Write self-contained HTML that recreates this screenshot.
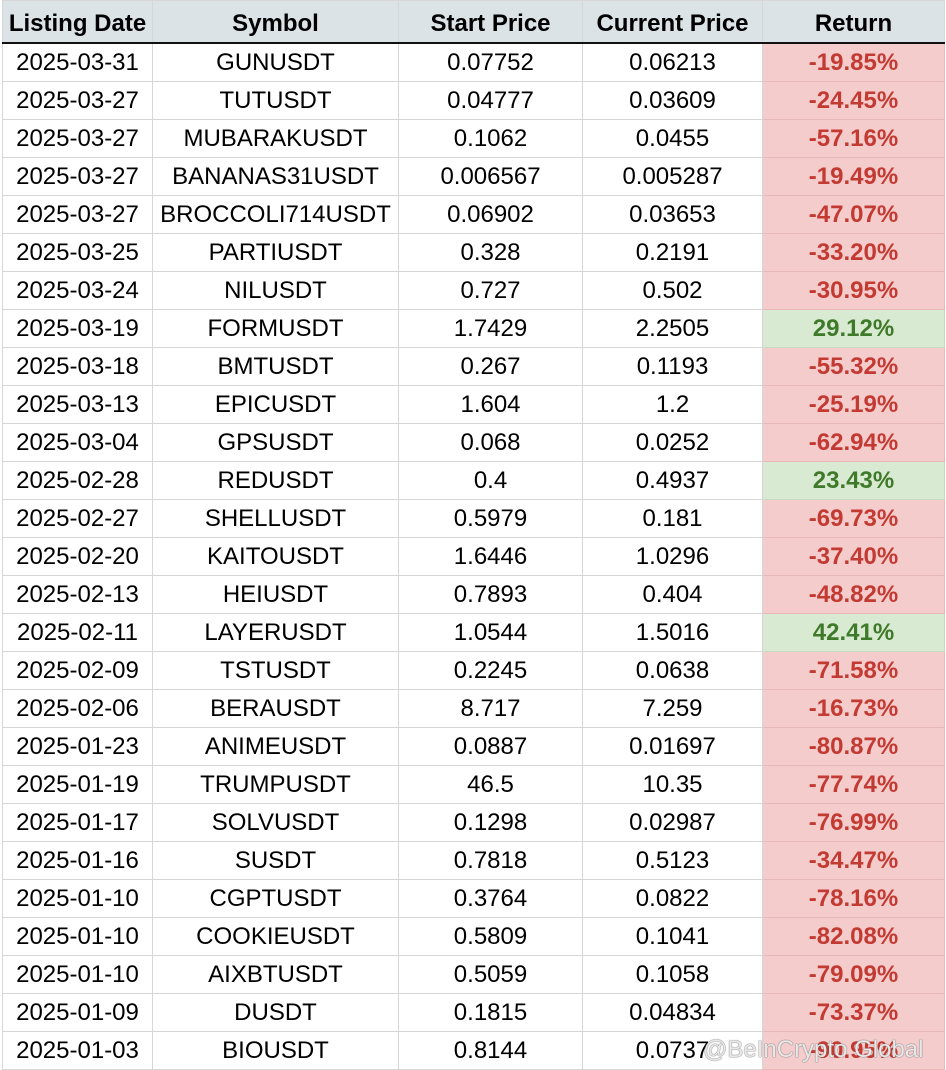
<!DOCTYPE html>
<html><head><meta charset="utf-8"><style>
html,body{margin:0;padding:0;background:#fff;width:946px;height:1070px;overflow:hidden}
table{position:absolute;left:2px;top:0;border-collapse:collapse;table-layout:fixed;font-family:"Liberation Sans",Arial,sans-serif;font-size:24px;color:#000}
td,th{border:1px solid #d6d6d6;height:37px;padding:0;text-align:center;white-space:nowrap;overflow:hidden}
td{padding-top:1px;height:36px}
th{background:#dbe3e7;font-weight:bold;height:36px;padding-top:5px;border-bottom:2px solid #111;color:#000}
td.n{background:#f4cccc;color:#c33a32;font-weight:bold;border-color:#e6b8b8}
td.p{background:#d9ead3;color:#3f7a2a;font-weight:bold;border-color:#c5dcbd}
.wm{position:absolute;left:703px;top:1036px;font-family:"Liberation Sans",Arial,sans-serif;font-size:24px;color:rgba(255,255,255,0.85);text-shadow:0 0 1px #666,0 0 1px #666}
</style></head><body>
<table>
<colgroup><col style="width:150px"><col style="width:246px"><col style="width:184px"><col style="width:180px"><col style="width:182px"></colgroup>
<tr><th>Listing Date</th><th>Symbol</th><th>Start Price</th><th>Current Price</th><th>Return</th></tr>
<tr><td>2025-03-31</td><td>GUNUSDT</td><td>0.07752</td><td>0.06213</td><td class="n">-19.85%</td></tr>
<tr><td>2025-03-27</td><td>TUTUSDT</td><td>0.04777</td><td>0.03609</td><td class="n">-24.45%</td></tr>
<tr><td>2025-03-27</td><td>MUBARAKUSDT</td><td>0.1062</td><td>0.0455</td><td class="n">-57.16%</td></tr>
<tr><td>2025-03-27</td><td>BANANAS31USDT</td><td>0.006567</td><td>0.005287</td><td class="n">-19.49%</td></tr>
<tr><td>2025-03-27</td><td>BROCCOLI714USDT</td><td>0.06902</td><td>0.03653</td><td class="n">-47.07%</td></tr>
<tr><td>2025-03-25</td><td>PARTIUSDT</td><td>0.328</td><td>0.2191</td><td class="n">-33.20%</td></tr>
<tr><td>2025-03-24</td><td>NILUSDT</td><td>0.727</td><td>0.502</td><td class="n">-30.95%</td></tr>
<tr><td>2025-03-19</td><td>FORMUSDT</td><td>1.7429</td><td>2.2505</td><td class="p">29.12%</td></tr>
<tr><td>2025-03-18</td><td>BMTUSDT</td><td>0.267</td><td>0.1193</td><td class="n">-55.32%</td></tr>
<tr><td>2025-03-13</td><td>EPICUSDT</td><td>1.604</td><td>1.2</td><td class="n">-25.19%</td></tr>
<tr><td>2025-03-04</td><td>GPSUSDT</td><td>0.068</td><td>0.0252</td><td class="n">-62.94%</td></tr>
<tr><td>2025-02-28</td><td>REDUSDT</td><td>0.4</td><td>0.4937</td><td class="p">23.43%</td></tr>
<tr><td>2025-02-27</td><td>SHELLUSDT</td><td>0.5979</td><td>0.181</td><td class="n">-69.73%</td></tr>
<tr><td>2025-02-20</td><td>KAITOUSDT</td><td>1.6446</td><td>1.0296</td><td class="n">-37.40%</td></tr>
<tr><td>2025-02-13</td><td>HEIUSDT</td><td>0.7893</td><td>0.404</td><td class="n">-48.82%</td></tr>
<tr><td>2025-02-11</td><td>LAYERUSDT</td><td>1.0544</td><td>1.5016</td><td class="p">42.41%</td></tr>
<tr><td>2025-02-09</td><td>TSTUSDT</td><td>0.2245</td><td>0.0638</td><td class="n">-71.58%</td></tr>
<tr><td>2025-02-06</td><td>BERAUSDT</td><td>8.717</td><td>7.259</td><td class="n">-16.73%</td></tr>
<tr><td>2025-01-23</td><td>ANIMEUSDT</td><td>0.0887</td><td>0.01697</td><td class="n">-80.87%</td></tr>
<tr><td>2025-01-19</td><td>TRUMPUSDT</td><td>46.5</td><td>10.35</td><td class="n">-77.74%</td></tr>
<tr><td>2025-01-17</td><td>SOLVUSDT</td><td>0.1298</td><td>0.02987</td><td class="n">-76.99%</td></tr>
<tr><td>2025-01-16</td><td>SUSDT</td><td>0.7818</td><td>0.5123</td><td class="n">-34.47%</td></tr>
<tr><td>2025-01-10</td><td>CGPTUSDT</td><td>0.3764</td><td>0.0822</td><td class="n">-78.16%</td></tr>
<tr><td>2025-01-10</td><td>COOKIEUSDT</td><td>0.5809</td><td>0.1041</td><td class="n">-82.08%</td></tr>
<tr><td>2025-01-10</td><td>AIXBTUSDT</td><td>0.5059</td><td>0.1058</td><td class="n">-79.09%</td></tr>
<tr><td>2025-01-09</td><td>DUSDT</td><td>0.1815</td><td>0.04834</td><td class="n">-73.37%</td></tr>
<tr><td>2025-01-03</td><td>BIOUSDT</td><td>0.8144</td><td>0.0737</td><td class="n">-90.95%</td></tr>
</table>
<div class="wm">@BeInCrypto Global</div>
</body></html>
